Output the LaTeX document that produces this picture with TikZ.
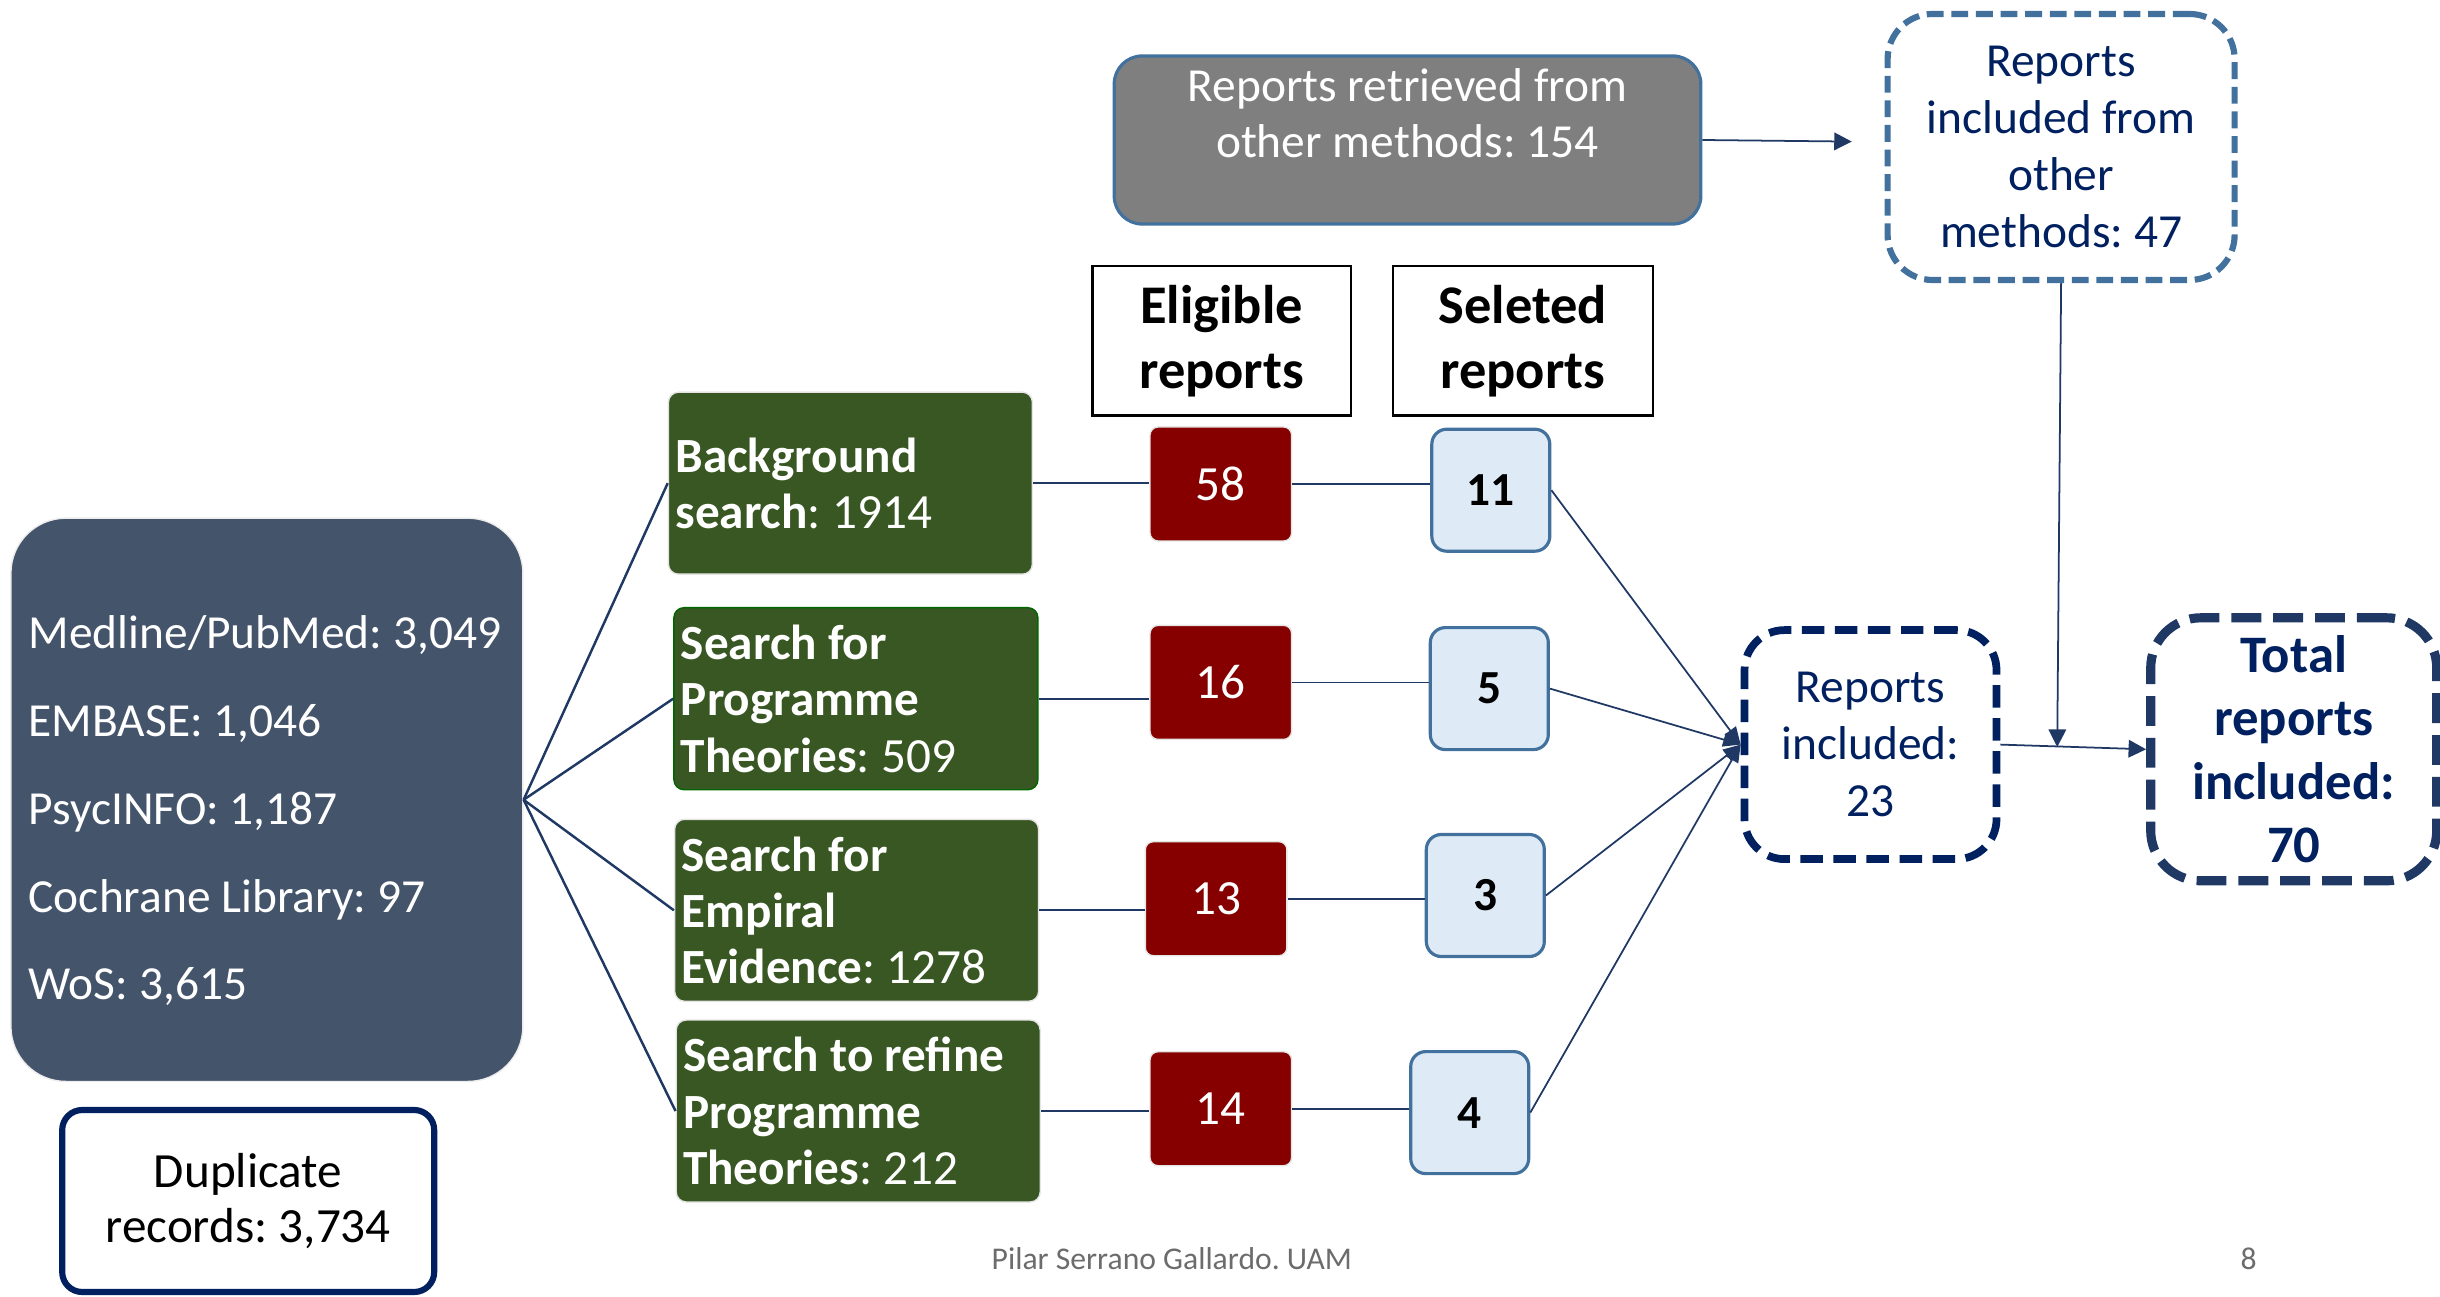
\documentclass[tikz,border=0pt]{standalone}
\usepackage{fontspec}
\setmainfont{Carlito}
\frenchspacing
\usetikzlibrary{positioning}
\usetikzlibrary{arrows.meta}
\definecolor{dbslate}{HTML}{44546A}
\definecolor{searchgreen}{HTML}{385723}
\definecolor{eligred}{HTML}{860000}
\definecolor{selfill}{HTML}{DEEBF7}
\definecolor{steelblue}{HTML}{41719C}
\definecolor{navy}{HTML}{002060}
\definecolor{navygray}{HTML}{203864}
\definecolor{otherfill}{HTML}{7F7F7F}

\begin{document}
\begin{tikzpicture}[
  dbbox/.style={fill=dbslate,draw=gray!15,rounded corners=0.55cm},
  searchbox/.style={fill=searchgreen,draw=gray!20,rounded corners=0.1cm,text=white,align=flush left,inner xsep=0.07cm,text width=3.5cm,minimum height=1.82cm,font=\fontsize{14}{16}\selectfont},
  headbox/.style={draw=black,line width=0.6pt,fill=white,minimum height=1.494cm,align=center,font=\bfseries\fontsize{15.5}{18.5}\selectfont},
  eligbox/.style={fill=eligred,draw=gray!20,rounded corners=0.08cm,text=white,minimum width=1.416cm,minimum height=1.14cm,font=\fontsize{14}{16}\selectfont},
  selbox/.style={fill=selfill,draw=steelblue,line width=0.9pt,rounded corners=0.15cm,minimum width=1.18cm,minimum height=1.22cm,font=\bfseries\fontsize{13.5}{16}\selectfont},
  conn/.style={draw=navygray,line width=0.5pt},
  tipsmall/.style={-{Triangle[length=5pt,width=4pt]}},
  tipbig/.style={-{Triangle[length=5pt,width=5pt]}}
]
\useasboundingbox (0,0) rectangle (24.4,-12.97);

\node[dbbox,minimum width=5.12cm,minimum height=5.633cm] (db) at (2.669,-7.998) {};
\node[text=white,align=left,anchor=west,inner sep=0pt,font=\fontsize{13.5}{25}\selectfont] (dbtext) at (0.28,-8.107) {Medline/PubMed: 3,049\\EMBASE: 1,046\\PsycINFO: 1,187\\Cochrane Library: 97\\WoS: 3,615};
\node[draw=navy,line width=1.75pt,fill=white,rounded corners=0.2cm,minimum width=3.72cm,minimum height=1.82cm,align=center,font=\fontsize{14}{15.5}\selectfont] (dup) at (2.482,-12.01) {Duplicate\\records: 3,734};

\node[searchbox] (bg) at (8.504,-4.832) {\textbf{Background}\\\textbf{search}: 1914};
\node[searchbox,draw=green!40!black] (prog) at (8.559,-6.987) {\textbf{Search for}\\\textbf{Programme}\\\textbf{Theories}: 509};
\node[searchbox] (emp) at (8.566,-9.103) {\textbf{Search for}\\\textbf{Empiral}\\\textbf{Evidence}: 1278};
\node[searchbox] (refine) at (8.582,-11.11) {\textbf{Search to refine}\\\textbf{Programme}\\\textbf{Theories}: 212};

\node[headbox,minimum width=2.583cm] (elighead) at (12.216,-3.408) {Eligible\\reports};
\node[headbox,minimum width=2.599cm] (selhead) at (15.227,-3.408) {Seleted\\reports};

\node[eligbox] (elig1) at (12.208,-4.840) {58};
\node[eligbox] (elig2) at (12.208,-6.824) {16};
\node[eligbox] (elig3) at (12.161,-8.987) {13};
\node[eligbox] (elig4) at (12.208,-11.087) {14};

\node[selbox] (sel1) at (14.908,-4.902) {11};
\node[selbox] (sel2) at (14.893,-6.886) {5};
\node[selbox] (sel3) at (14.853,-8.955) {3};
\node[selbox] (sel4) at (14.697,-11.126) {4};

\node[draw=navy,line width=2.2pt,dash pattern=on 6.4pt off 3pt,fill=white,rounded corners=0.4cm,minimum width=2.52cm,minimum height=2.29cm,align=center,text=navy,font=\fontsize{13.5}{16.3}\selectfont] (incl) at (18.705,-7.446) {Reports\\included:\\23};
\node[draw=navygray,line width=2.6pt,dash pattern=on 8.5pt off 3.4pt,fill=white,rounded corners=0.5cm,minimum width=2.86cm,minimum height=2.63cm,align=center,text=navy,font=\bfseries\fontsize{15}{18}\selectfont] (total) at (22.937,-7.493) {Total\\reports\\included:\\70};

\node[fill=otherfill,draw=steelblue,line width=0.9pt,rounded corners=0.28cm,minimum width=5.866cm,minimum height=1.681cm] (other) at (14.075,-1.4) {};
\node[text=white,align=center,font=\fontsize{13.5}{16}\selectfont] (othertext) at (14.075,-1.136) {Reports retrieved from\\other methods: 154};
\node[draw=steelblue,line width=1.75pt,dash pattern=on 4.8pt off 2.2pt,fill=white,rounded corners=0.45cm,minimum width=3.47cm,minimum height=2.66cm,align=center,text=navy,font=\fontsize{13.5}{16.3}\selectfont] (otherincl) at (20.611,-1.470) {Reports\\included from\\other\\methods: 47};

\coordinate (otherend) at (18.518,-1.416);
\coordinate (join) at (20.572,-7.47);

\draw[conn,line width=0.7pt] (db.east) -- (bg.west);
\draw[conn,line width=0.7pt] (db.east) -- (prog.west);
\draw[conn,line width=0.7pt] (db.east) -- (emp.west);
\draw[conn,line width=0.7pt] (db.east) -- (refine.west);

\draw[conn] (bg.east) -- (bg.east -| elig1.west);
\draw[conn] (prog.east) -- (prog.east -| elig2.west);
\draw[conn] (emp.east) -- (emp.east -| elig3.west);
\draw[conn] (refine.east) -- (refine.east -| elig4.west);

\draw[conn] (elig1.east) -- (elig1.east -| sel1.west);
\draw[conn] (elig2.east) -- (elig2.east -| sel2.west);
\draw[conn] (elig3.east) -- (elig3.east -| sel3.west);
\draw[conn] (elig4.east) -- (elig4.east -| sel4.west);

\draw[conn,tipsmall] (sel1.east) -- (incl.west);
\draw[conn,tipsmall] (sel2.east) -- (incl.west);
\draw[conn,tipsmall] (sel3.east) -- (incl.west);
\draw[conn,tipsmall] (sel4.east) -- (incl.west);

\draw[conn,tipbig] (incl.east) -- (total.west);
\draw[conn,tipbig] (other.east) -- (otherend);
\draw[conn,tipbig] (otherincl.south) -- (join);

\node[text=gray!85!black,font=\fontsize{9}{11}\selectfont] (footer) at (11.718,-12.589) {Pilar Serrano Gallardo. UAM};
\node[text=gray!85!black,font=\fontsize{9}{11}\selectfont] (pagenum) at (22.486,-12.589) {8};

\end{tikzpicture}
\end{document}
